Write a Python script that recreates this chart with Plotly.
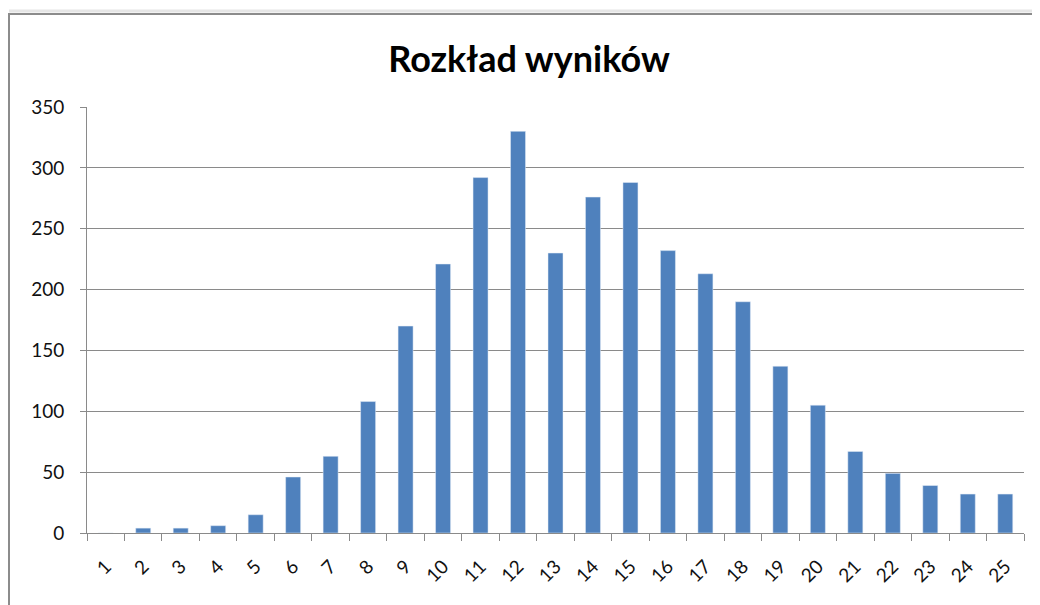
import plotly.graph_objects as go

categories = [str(i) for i in range(1, 26)]
values = [0, 4, 4, 6, 15, 46, 63, 108, 170, 221, 292, 330, 230, 276, 288,
          232, 213, 190, 137, 105, 67, 49, 39, 32, 32]
y_ticks = [0, 50, 100, 150, 200, 250, 300, 350]

GRID = "#8A8A8A"
FONT = "Lato, Carlito, Calibri, sans-serif"

# The page body has an 8px default margin, so the figure is offset by 8px.
W, H = 1032, 597
L, T = 79, 99
R = W - 1016
B = H - 525
PW = W - L - R
PH = H - T - B

def px(x):
    return (x - 8 - L) / PW

def py(y):
    return (H - B - (y - 8)) / PH

fig = go.Figure()
fig.add_trace(go.Bar(
    x=categories, y=values,
    marker=dict(color="#4F81BD"),
))

fig.update_layout(
    width=W, height=H,
    margin=dict(l=L, r=R, t=T, b=B),
    paper_bgcolor="white", plot_bgcolor="white",
    bargap=0.6,
    showlegend=False,
    title=dict(text="<b>Rozkład wyników</b>", x=(529 - 8) / W, xanchor="center",
               y=1 - (59 - 8) / H, yanchor="middle", yref="container",
               font=dict(family=FONT, size=36, color="black")),
    font=dict(family=FONT, size=18, color="#111111"),
    xaxis=dict(type="category", tickson="boundaries", ticks="outside",
               ticklen=7, tickcolor=GRID, showline=True, linecolor=GRID,
               linewidth=1, tickangle=-45, showgrid=False,
               ticklabelstandoff=14, tickfont=dict(size=19)),
    yaxis=dict(range=[0, 350], tickvals=y_ticks, ticks="outside",
               ticklen=6, tickcolor=GRID, showline=True, linecolor=GRID,
               linewidth=1, showgrid=True, gridcolor=GRID, gridwidth=1,
               zeroline=False, ticklabelstandoff=12, tickfont=dict(size=19)),
    shapes=[
        dict(type="line", xref="paper", yref="paper", x0=px(9), x1=1.05,
             y0=py(11), y1=py(11), line=dict(color="#E6E6E6", width=3)),
        dict(type="rect", xref="paper", yref="paper", x0=px(9), x1=1.05,
             y0=-0.3, y1=py(14), line=dict(color="#8C8C8C", width=2),
             layer="below"),
    ],
)

fig.write_html("out.html")
